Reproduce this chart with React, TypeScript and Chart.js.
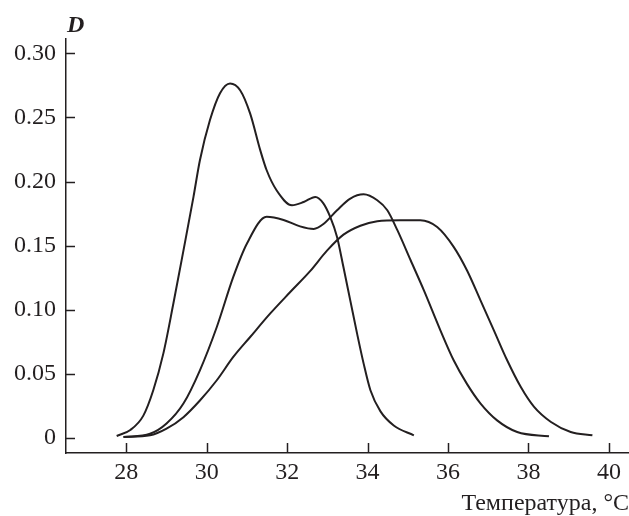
import { useEffect, useRef } from 'react';
import { Chart, registerables } from 'chart.js';

Chart.register(...registerables);

// Tick values
const xTicks = [28, 30, 32, 34, 36, 38, 40];
const yTicks = [0, 0.05, 0.1, 0.15, 0.2, 0.25, 0.3];

// Curve 1: narrow, tallest peak
const curve1T = [27.76, 28.1, 28.42, 28.67, 28.92, 29.17, 29.42, 29.67, 29.83, 30.08, 30.33, 30.58, 30.83, 31.08, 31.33, 31.49, 31.74, 32.12, 32.41, 32.7, 32.9, 33.07, 33.24, 33.4, 33.57, 33.74, 33.9, 34.07, 34.32, 34.65, 35.15];
const curve1D = [0.0013, 0.006, 0.017, 0.037, 0.0656, 0.1047, 0.146, 0.188, 0.2166, 0.248, 0.269, 0.2766, 0.2713, 0.253, 0.2245, 0.2088, 0.193, 0.1815, 0.184, 0.188, 0.183, 0.1724, 0.1567, 0.133, 0.107, 0.081, 0.058, 0.037, 0.0205, 0.0095, 0.0018];

// Curve 2: shoulder near 31.5, peak near 34
const curve2T = [27.93, 28.59, 29.0, 29.42, 29.83, 30.25, 30.66, 31.0, 31.49, 31.91, 32.32, 32.66, 32.91, 33.24, 33.57, 33.9, 34.24, 34.49, 34.74, 35.07, 35.4, 35.81, 36.14, 36.47, 36.81, 37.22, 37.72, 38.51];
const curve2D = [0.0005, 0.003, 0.011, 0.0266, 0.0526, 0.0864, 0.1255, 0.1516, 0.1724, 0.17, 0.165, 0.163, 0.167, 0.1776, 0.1867, 0.19, 0.1854, 0.1776, 0.162, 0.1385, 0.115, 0.0838, 0.0604, 0.042, 0.0266, 0.0135, 0.0044, 0.001];

// Curve 3: broad plateau
const curve3T = [27.93, 28.59, 29.0, 29.42, 29.83, 30.25, 30.66, 31.08, 31.58, 32.07, 32.57, 32.99, 33.4, 33.82, 34.24, 34.81, 35.31, 35.73, 36.14, 36.47, 36.81, 37.14, 37.47, 37.81, 38.14, 38.56, 39.05, 39.59];
const curve3D = [0.0005, 0.0018, 0.007, 0.016, 0.029, 0.0448, 0.063, 0.0786, 0.097, 0.1135, 0.13, 0.146, 0.1585, 0.1655, 0.169, 0.1698, 0.1698, 0.1645, 0.149, 0.1307, 0.107, 0.0838, 0.0604, 0.0395, 0.024, 0.0122, 0.0044, 0.0018];

const xLabel = 'Температура, °C';
const yLabel = 'D';

const INK = '#231f20';
const FONT = '"Liberation Serif", "Times New Roman", serif';

const toPoints = (t: number[], d: number[]) => t.map((x, i) => ({ x, y: d[i] }));

const decorations = {
  id: 'decorations',
  afterDraw(chart: any) {
    const { ctx, chartArea, scales } = chart;
    ctx.save();
    ctx.strokeStyle = INK;
    ctx.lineWidth = 1.5;
    yTicks.forEach((v) => {
      const y = Math.round(scales.y.getPixelForValue(v)) + 0.5;
      ctx.beginPath();
      ctx.moveTo(chartArea.left, y);
      ctx.lineTo(chartArea.left + 9, y);
      ctx.stroke();
    });
    xTicks.forEach((v) => {
      const x = Math.round(scales.x.getPixelForValue(v)) + 0.5;
      ctx.beginPath();
      ctx.moveTo(x, chartArea.bottom);
      ctx.lineTo(x, chartArea.bottom - 10);
      ctx.stroke();
    });
    ctx.font = `italic bold 24px ${FONT}`;
    ctx.fillStyle = INK;
    ctx.textAlign = 'left';
    ctx.textBaseline = 'alphabetic';
    ctx.fillText(yLabel, chartArea.left + 1, 32);
    ctx.restore();
  },
};

export default function App() {
  const ref = useRef<HTMLCanvasElement | null>(null);
  useEffect(() => {
    if (!ref.current) return;
    const lineStyle = {
      borderColor: INK,
      borderWidth: 2,
      pointRadius: 0,
      cubicInterpolationMode: 'monotone' as const,
      fill: false,
    };
    const chart = new Chart(ref.current, {
      type: 'line',
      data: {
        datasets: [
          { ...lineStyle, data: toPoints(curve1T, curve1D) },
          { ...lineStyle, data: toPoints(curve2T, curve2D) },
          { ...lineStyle, data: toPoints(curve3T, curve3D) },
        ],
      },
      options: {
        animation: false,
        responsive: false,
        layout: { padding: { top: 39, right: 0, left: 0, bottom: 0 } },
        plugins: { legend: { display: false }, tooltip: { enabled: false } },
        scales: {
          x: {
            type: 'linear',
            min: 26.5,
            max: 40.5,
            afterBuildTicks: (s: any) => {
              s.ticks = xTicks.map((value) => ({ value }));
            },
            afterFit: (s: any) => {
              s.height = 63;
            },
            grid: { display: true, drawOnChartArea: false, drawTicks: false },
            border: { display: true, color: INK, width: 1.5 },
            ticks: {
              color: INK,
              font: { family: FONT, size: 24 },
              padding: 5,
              maxRotation: 0,
              callback: (v: any) => String(v),
            },
            title: {
              display: true,
              text: xLabel,
              align: 'end',
              color: INK,
              font: { family: FONT, size: 24, lineHeight: 1 },
              padding: { top: 0, bottom: 0 },
            },
          },
          y: {
            type: 'linear',
            min: -0.012,
            max: 0.3113,
            afterBuildTicks: (s: any) => {
              s.ticks = yTicks.map((value) => ({ value }));
            },
            afterFit: (s: any) => {
              s.width = 66;
            },
            grid: { display: true, drawOnChartArea: false, drawTicks: false },
            border: { display: true, color: INK, width: 1.5 },
            ticks: {
              color: INK,
              font: { family: FONT, size: 24 },
              padding: 10,
              callback: (v: any) => (v === 0 ? '0' : Number(v).toFixed(2)),
            },
          },
        },
      },
      plugins: [decorations],
    });
    return () => chart.destroy();
  }, []);
  return (
    <div style={{ position: 'absolute', left: 0, top: 0, width: 629, height: 516, background: '#fff' }}>
      <canvas ref={ref} width={629} height={516} />
    </div>
  );
}
